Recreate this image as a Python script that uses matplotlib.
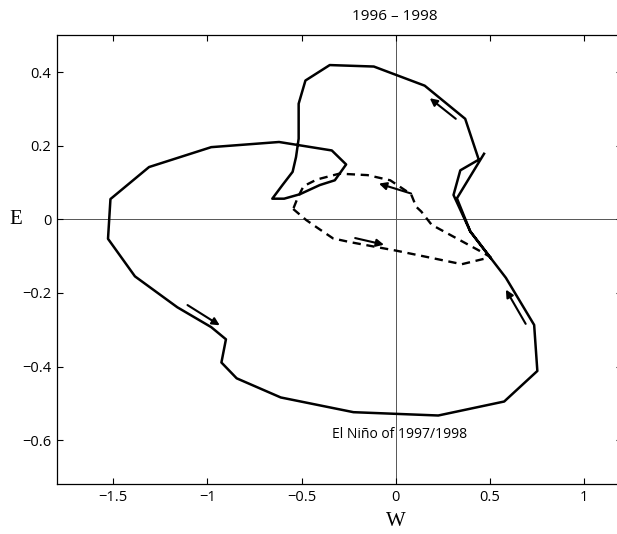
import matplotlib
matplotlib.use("Agg")
import matplotlib.pyplot as plt

plt.rcParams['font.family'] = ['Open Sans', 'DejaVu Sans']

# 1996 loop (dashed)
w_1996 = [-0.545, -0.476, -0.414, -0.333, -0.243, -0.117, 0.0, 0.19, 0.35, 0.503,
          0.46, 0.19, 0.135, 0.108, 0.081, -0.03, -0.15, -0.30, -0.42, -0.49, -0.52, -0.545]
e_1996 = [0.028, -0.002, -0.024, -0.052, -0.062, -0.074, -0.085, -0.105, -0.122, -0.103,
          -0.09, -0.015, 0.021, 0.034, 0.068, 0.106, 0.12, 0.124, 0.108, 0.09, 0.06, 0.028]

# 1997/1998 El Nino (solid)
w_nino = [0.503, 0.395, 0.306, 0.342, 0.44, 0.368, 0.153, -0.117, -0.351, -0.48,
          -0.516, -0.516, -0.53, -0.548, -0.602, -0.656, -0.593, -0.51, -0.404, -0.324,
          -0.264, -0.34, -0.62, -0.98, -1.31, -1.515, -1.528, -1.385, -1.16, -0.98,
          -0.902, -0.926, -0.845, -0.611, -0.225, 0.225, 0.575, 0.751, 0.734, 0.584,
          0.503, 0.395, 0.324, 0.468]
e_nino = [-0.105, -0.033, 0.066, 0.133, 0.162, 0.273, 0.363, 0.415, 0.419, 0.377,
          0.314, 0.219, 0.169, 0.129, 0.093, 0.056, 0.056, 0.068, 0.093, 0.106,
          0.149, 0.187, 0.21, 0.196, 0.142, 0.055, -0.053, -0.155, -0.239, -0.293,
          -0.326, -0.389, -0.432, -0.484, -0.524, -0.533, -0.495, -0.412, -0.287, -0.159,
          -0.105, -0.033, 0.057, 0.178]

# direction arrows: (tail, head)
arrows = [((-1.106, -0.233), (-0.935, -0.288)),
          ((0.689, -0.284), (0.584, -0.191)),
          ((0.318, 0.273), (0.18, 0.329)),
          ((0.081, 0.070), (-0.09, 0.097)),
          ((-0.216, -0.051), (-0.063, -0.069))]

xticks = [-1.5, -1, -0.5, 0, 0.5, 1]
xticklabels = ['\u22121.5', '\u22121', '\u22120.5', '0', '0.5', '1']
yticks = [-0.6, -0.4, -0.2, 0, 0.2, 0.4]
yticklabels = ['\u22120.6', '\u22120.4', '\u22120.2', '0', '0.2', '0.4']

fig = plt.figure(figsize=(6.17, 5.34), dpi=100)
ax = fig.add_axes([0.092, 0.093, 0.916, 0.841])

ax.axhline(0, color='#555555', lw=0.7, zorder=1)
ax.axvline(0, color='#555555', lw=0.7, zorder=1)

ax.plot(w_1996, e_1996, color='k', lw=1.7, dashes=(3.5, 2.4), zorder=3)
ax.plot(w_nino, e_nino, color='k', lw=1.8, zorder=3)

for tail, head in arrows:
    ax.annotate('', xy=head, xytext=tail,
                arrowprops=dict(arrowstyle='-|>', color='k', lw=1.5,
                                mutation_scale=11, shrinkA=0, shrinkB=0))

ax.text(0.02, -0.585, 'El Ni\u00f1o of 1997/1998', ha='center', va='center', fontsize=10)

ax.set_xlim(-1.8, 1.2)
ax.set_ylim(-0.72, 0.5)
ax.set_xticks(xticks)
ax.set_xticklabels(xticklabels)
ax.set_yticks(yticks)
ax.set_yticklabels(yticklabels)
ax.tick_params(direction='in', top=True, right=True, length=4.5, width=0.8,
               labelsize=10.5, pad=4)
for s in ax.spines.values():
    s.set_linewidth(0.9)

ax.set_xlabel('W', fontsize=15, family='Liberation Serif', va='center')
ax.xaxis.set_label_coords(0.6, -0.083)
ax.set_ylabel('E', fontsize=15, family='Liberation Serif', rotation=0, va='center', ha='center')
ax.yaxis.set_label_coords(-0.072, 0.59)

fig.text(395 / 617, 1 - 17 / 534, '1996 \u2013 1998', ha='center', va='center', fontsize=11)

fig.savefig('out.png', dpi=100)
